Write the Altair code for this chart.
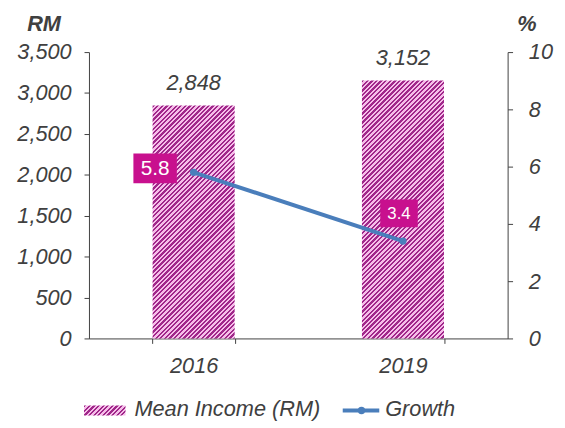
import math
import altair as alt
import pandas as pd

# ---- data ----
years = ["2016", "2019"]
mean_income = [2848, 3152]
growth = [5.8, 3.4]
income_ticks = [0, 500, 1000, 1500, 2000, 2500, 3000, 3500]
growth_ticks = [0, 2, 4, 6, 8, 10]
legend_labels = ["Mean Income (RM)", "Growth"]

# ---- layout / style ----
W, H = 424, 290
INCOME_MAX = 3500
GROWTH_MAX = 10
PAD_INNER, PAD_OUTER = 0.608, 0.304
FONT = "Liberation Sans"
FS = 22
TEXT = "#404040"
AXIS = "#404040"
BLUE = "#4a7ebb"
MAGENTA = "#c8108e"
DARK = "#a0278a"
LIGHT = "#f6bde9"


def stripe_gradient(w, h, period=3.3, dark_frac=0.5):
    """Diagonal '/' hatch imitation using a hard-stop linear gradient."""
    iw, ih = 1.0 / w, 1.0 / h
    k = (ih + iw) / (ih ** 2 + iw ** 2)
    n = (w + h) / math.sqrt(2) / period
    stops = []
    i = 0
    while i / n < 1:
        a = i / n
        b = min((i + dark_frac) / n, 1)
        c = min((i + 1) / n, 1)
        stops += [(a, DARK), (b, DARK), (b, LIGHT), (c, LIGHT)]
        i += 1
    return alt.LinearGradient(
        gradient="linear",
        x1=0, y1=0, x2=k * ih, y2=k * iw,
        stops=[alt.GradientStop(offset=round(o, 5), color=col) for o, col in stops],
    )


df = pd.DataFrame({"year": years, "income": mean_income, "growth": growth})
base = alt.Chart(df)

step = W / (len(years) - PAD_INNER + 2 * PAD_OUTER)
bandwidth = step * (1 - PAD_INNER)

xscale = alt.Scale(paddingInner=PAD_INNER, paddingOuter=PAD_OUTER)
x_axis = alt.Axis(
    title=None, labelAngle=0, labelFont=FONT, labelFontSize=FS, labelFontStyle="italic",
    labelColor=TEXT, labelPadding=12, tickBand="extent", tickSize=5, tickColor=AXIS,
    domainColor=AXIS, grid=False,
)
x_enc = alt.X("year:N", scale=xscale, axis=x_axis)

left_axis = alt.Axis(
    title="RM", titleAngle=0, titleX=-46, titleY=-22, titleAlign="center",
    titleBaseline="alphabetic", titleFont=FONT, titleFontSize=FS, titleFontStyle="italic",
    titleFontWeight="bold", titleColor=TEXT, values=income_ticks, format=",.0f",
    labelFont=FONT, labelFontSize=FS, labelFontStyle="italic", labelColor=TEXT,
    labelPadding=13, tickSize=5, tickColor=AXIS, domainColor=AXIS, grid=False,
)
right_axis = alt.Axis(
    orient="right", title="%", titleAngle=0, titleX=19, titleY=-22, titleAlign="center",
    titleBaseline="alphabetic", titleFont=FONT, titleFontSize=FS, titleFontStyle="italic",
    titleFontWeight="bold", titleColor=TEXT, values=growth_ticks, format=".0f",
    labelFont=FONT, labelFontSize=FS, labelFontStyle="italic", labelColor=TEXT,
    labelPadding=16, tickSize=5, tickColor=AXIS, domainColor=AXIS, grid=False,
)
y_inc = alt.Y("income:Q", scale=alt.Scale(domain=[0, INCOME_MAX]), axis=left_axis)
y_gr = alt.Y("growth:Q", scale=alt.Scale(domain=[0, GROWTH_MAX]), axis=right_axis)

# bars with hatch imitation, one layer per bar
bar_layers = [
    base.transform_filter(alt.datum.year == yr)
    .mark_bar(fill=stripe_gradient(bandwidth, v / INCOME_MAX * H), strokeWidth=0)
    .encode(x=x_enc, y=y_inc)
    for yr, v in zip(years, mean_income)
]
bar_text = base.mark_text(
    dy=-16, baseline="alphabetic", font=FONT, fontSize=FS, fontStyle="italic", color=TEXT
).encode(x=x_enc, y=y_inc, text=alt.Text("income:Q", format=",.0f"))
bar_group = alt.layer(*bar_layers, bar_text)

# growth line
line = base.mark_line(color=BLUE, strokeWidth=4).encode(x=x_enc, y=y_gr)
pts = base.mark_point(filled=True, size=55, opacity=1, color=BLUE).encode(x=x_enc, y=y_gr)

label_specs = [
    # year, xOffset, yOffset, half-width ratio, size, font size
    ("2016", -39, -4, 1.4667, 900, 21),
    ("2019", -4, -28, 1.357, 784, 17),
]
label_layers = []
for yr, xo, yo, r, sz, fs in label_specs:
    sub = base.transform_filter(alt.datum.year == yr)
    label_layers.append(
        sub.mark_point(
            filled=True, opacity=1, color=MAGENTA, size=sz, xOffset=xo, yOffset=yo,
            shape=f"M-{r},-1H{r}V1H-{r}Z",
        ).encode(x=x_enc, y=y_gr)
    )
    label_layers.append(
        sub.mark_text(
            xOffset=xo, yOffset=yo + 1, color="white", font=FONT, fontSize=fs,
            align="center", baseline="middle",
        ).encode(x=x_enc, y=y_gr, text=alt.Text("growth:Q", format=".1f"))
    )
line_group = alt.layer(line, pts, *label_layers)

# manual legend below the plot
leg = alt.Chart(pd.DataFrame({"label": legend_labels}))
leg_swatch = alt.Chart(pd.DataFrame({"label": [legend_labels[0]]})).mark_rect(
    fill=stripe_gradient(42, 10), strokeWidth=0
).encode(x=alt.value(-5), x2=alt.value(37), y=alt.value(358), y2=alt.value(368))
leg_text1 = leg.transform_filter(alt.datum.label == legend_labels[0]).mark_text(
    align="left", baseline="alphabetic", font=FONT, fontSize=FS, fontStyle="italic", color=TEXT
).encode(x=alt.value(46), y=alt.value(369), text="label:N")
leg_line = alt.Chart(pd.DataFrame({"label": [legend_labels[1]]})).mark_rule(
    color=BLUE, strokeWidth=4
).encode(x=alt.value(257), x2=alt.value(294), y=alt.value(363))
leg_pt = alt.Chart(pd.DataFrame({"label": [legend_labels[1]]})).mark_point(
    filled=True, size=55, opacity=1, color=BLUE
).encode(x=alt.value(276), y=alt.value(363))
leg_text2 = leg.transform_filter(alt.datum.label == legend_labels[1]).mark_text(
    align="left", baseline="alphabetic", font=FONT, fontSize=FS, fontStyle="italic", color=TEXT
).encode(x=alt.value(300), y=alt.value(369), text="label:N")

chart = (
    alt.layer(bar_group, line_group, leg_swatch, leg_text1, leg_line, leg_pt, leg_text2)
    .resolve_scale(y="independent")
    .properties(
        width=W, height=H,
        padding={"left": 82, "top": 42, "right": 50, "bottom": 84},
        autosize=alt.AutoSizeParams(type="none"),
        background="white",
    )
    .configure_view(stroke=None)
)

chart.save("out.html", embed_options={"renderer": "svg", "actions": False})
